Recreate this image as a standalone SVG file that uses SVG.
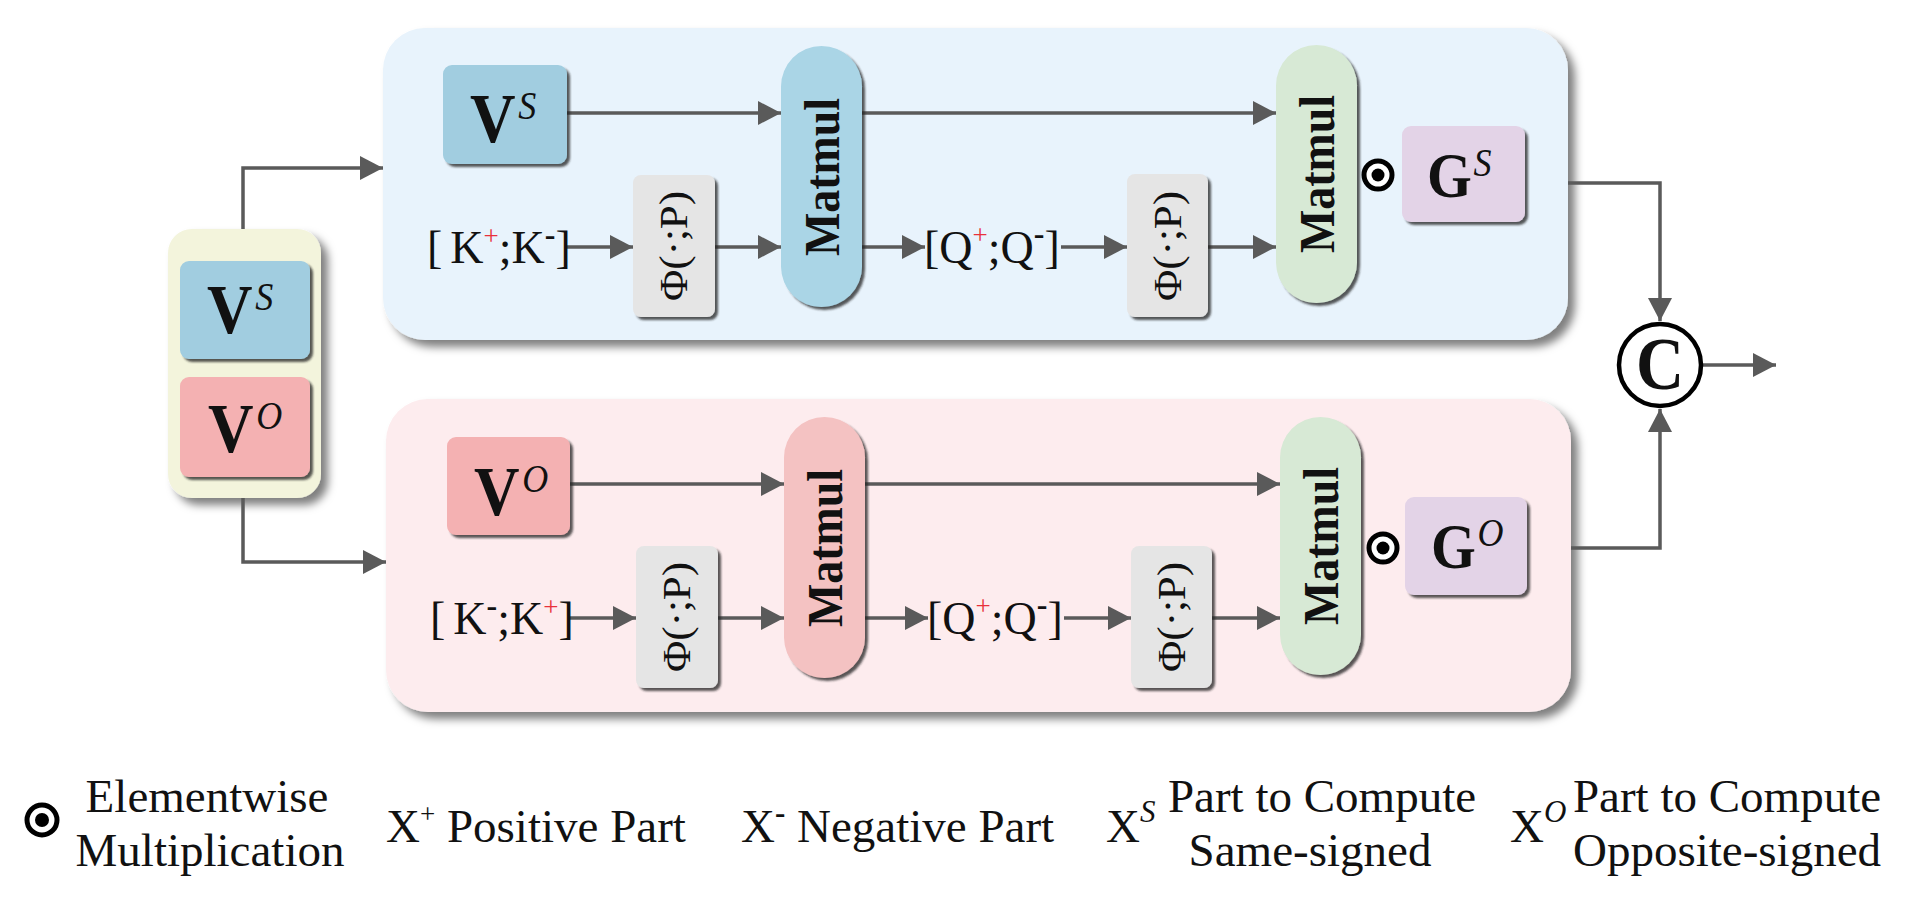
<svg xmlns="http://www.w3.org/2000/svg" width="1913" height="902" viewBox="0 0 1913 902" font-family="'Liberation Serif', 'Times New Roman', serif">
<defs>
<style>
text{font-family:"Liberation Serif","Times New Roman",serif;fill:#111}
.panelS{fill:#E8F3FC}
.panelO{fill:#FDECEE}
.vs{fill:#A1CDE0}
.vo{fill:#F4B1B2}
.mmS{fill:#AAD5E6}
.mmO{fill:#F4C2C2}
.mm2{fill:#D7E9D5}
.phi{fill:#E5E5E5}
.g{fill:#E3D3E7}
.yel{fill:#F3F4DC}
.conn{fill:none;stroke:#5A5A5A;stroke-width:3.5}
.big{font-weight:bold;font-size:70px}
.gg{font-weight:bold;font-size:64px}
.sup{font-style:italic;font-weight:normal;font-size:40px}
.mmt{font-weight:bold;font-size:50px}
.phit{font-size:40px}
.kq{font-size:46px}
.red{fill:#E8313A;font-size:27px}
.minus{font-size:32px;font-weight:bold}
.leg{font-size:47px}
</style>
<filter id="shBig" x="-10%" y="-10%" width="130%" height="130%">
<feDropShadow dx="7" dy="7" stdDeviation="4" flood-color="#000" flood-opacity="0.5"/>
</filter>
<filter id="shSm" x="-10%" y="-10%" width="130%" height="130%">
<feDropShadow dx="3" dy="3" stdDeviation="1.2" flood-color="#222" flood-opacity="0.75"/>
</filter>
<marker id="ah" markerUnits="userSpaceOnUse" markerWidth="24" markerHeight="26" refX="23" refY="13" orient="auto">
<path d="M0,1 L23,13 L0,25 z" fill="#5A5A5A"/>
</marker>
</defs>
<rect width="1913" height="902" fill="#fff"/>

<g id="panel-same">
<rect x="383" y="28" width="1185" height="312" rx="42" class="panelS" filter="url(#shBig)"/>
</g>
<g id="panel-opposite">
<rect x="386" y="399" width="1185" height="313" rx="42" class="panelO" filter="url(#shBig)"/>
</g>

<g id="input-stack">
<rect x="168" y="229" width="153" height="269" rx="24" class="yel" filter="url(#shBig)"/>
</g>
<g id="input-vs">
<rect x="180" y="261" width="130" height="98" rx="9" class="vs" filter="url(#shSm)"/>
<text transform="translate(207,333) scale(0.9,1)" class="big">V<tspan class="sup" dx="3" dy="-23">S</tspan></text>
</g>
<g id="input-vo">
<rect x="180" y="377" width="130" height="100" rx="9" class="vo" filter="url(#shSm)"/>
<text transform="translate(208,452) scale(0.9,1)" class="big">V<tspan class="sup" dx="3" dy="-23">O</tspan></text>
</g>

<g id="connectors">
<path class="conn" d="M243,229 V168 H383" marker-end="url(#ah)"/>
<path class="conn" d="M243,498 V562 H386" marker-end="url(#ah)"/>
<path class="conn" d="M567,113 H781" marker-end="url(#ah)"/>
<path class="conn" d="M566,247 H633" marker-end="url(#ah)"/>
<path class="conn" d="M715,247 H781" marker-end="url(#ah)"/>
<path class="conn" d="M862,247 H925" marker-end="url(#ah)"/>
<path class="conn" d="M1061,247 H1127" marker-end="url(#ah)"/>
<path class="conn" d="M1208,247 H1276" marker-end="url(#ah)"/>
<path class="conn" d="M862,113 H1276" marker-end="url(#ah)"/>
<path class="conn" d="M570,484 H784" marker-end="url(#ah)"/>
<path class="conn" d="M569,618 H636" marker-end="url(#ah)"/>
<path class="conn" d="M718,618 H784" marker-end="url(#ah)"/>
<path class="conn" d="M865,618 H928" marker-end="url(#ah)"/>
<path class="conn" d="M1064,618 H1131" marker-end="url(#ah)"/>
<path class="conn" d="M1212,618 H1280" marker-end="url(#ah)"/>
<path class="conn" d="M865,484 H1280" marker-end="url(#ah)"/>
<path class="conn" d="M1568,183 H1660 V321" marker-end="url(#ah)"/>
<path class="conn" d="M1571,548 H1660 V409" marker-end="url(#ah)"/>
<path class="conn" d="M1703,365 H1776" marker-end="url(#ah)"/>
</g>

<g id="vs">
<rect x="443" y="65" width="124" height="99" rx="9" class="vs" filter="url(#shSm)"/>
<text transform="translate(470,142) scale(0.9,1)" class="big">V<tspan class="sup" dx="3" dy="-23">S</tspan></text>
</g>
<g id="k-s">
<text x="427" y="263" class="kq">[<tspan dx="8">K</tspan><tspan class="red" dy="-18">+</tspan><tspan dy="18">;K</tspan><tspan class="minus" dy="-18">-</tspan><tspan dy="18">]</tspan></text>
</g>
<g id="phi1-s">
<rect x="633" y="175" width="82" height="142" rx="8" class="phi" filter="url(#shSm)"/>
<text transform="translate(674,246) rotate(-90)" x="0" y="13" text-anchor="middle" class="phit" textLength="110" lengthAdjust="spacingAndGlyphs">Φ(·;P)</text>
</g>
<g id="matmul1-s">
<rect x="781" y="46" width="81" height="261" rx="40.5" class="mmS" filter="url(#shSm)"/>
<text transform="translate(822,177) rotate(-90)" x="0" y="17" text-anchor="middle" class="mmt" textLength="158" lengthAdjust="spacingAndGlyphs">Matmul</text>
</g>
<g id="q-s">
<text x="924" y="263" class="kq">[Q<tspan class="red" dy="-19">+</tspan><tspan dy="19">;Q</tspan><tspan class="minus" dy="-19">-</tspan><tspan dy="19">]</tspan></text>
</g>
<g id="phi2-s">
<rect x="1127" y="174" width="81" height="143" rx="8" class="phi" filter="url(#shSm)"/>
<text transform="translate(1167.5,246) rotate(-90)" x="0" y="13" text-anchor="middle" class="phit" textLength="110" lengthAdjust="spacingAndGlyphs">Φ(·;P)</text>
</g>
<g id="matmul2-s">
<rect x="1276" y="45" width="81" height="258" rx="40.5" class="mm2" filter="url(#shSm)"/>
<text transform="translate(1316.5,174) rotate(-90)" x="0" y="17" text-anchor="middle" class="mmt" textLength="158" lengthAdjust="spacingAndGlyphs">Matmul</text>
</g>
<g id="odot-s">
<circle cx="1378" cy="175" r="14" fill="#fff" stroke="#000" stroke-width="5"/>
<circle cx="1378" cy="175" r="6.5" fill="#000"/>
</g>
<g id="gs">
<rect x="1402" y="126" width="123" height="96" rx="9" class="g" filter="url(#shSm)"/>
<text transform="translate(1427,197) scale(0.9,1)" class="gg">G<tspan class="sup" dx="2" dy="-21">S</tspan></text>
</g>

<g id="vo">
<rect x="447" y="437" width="123" height="98" rx="9" class="vo" filter="url(#shSm)"/>
<text transform="translate(474,515) scale(0.9,1)" class="big">V<tspan class="sup" dx="3" dy="-23">O</tspan></text>
</g>
<g id="k-o">
<text x="430" y="634" class="kq">[<tspan dx="8">K</tspan><tspan class="minus" dy="-18">-</tspan><tspan dy="18">;K</tspan><tspan class="red" dy="-18">+</tspan><tspan dy="18">]</tspan></text>
</g>
<g id="phi1-o">
<rect x="636" y="546" width="82" height="142" rx="8" class="phi" filter="url(#shSm)"/>
<text transform="translate(677,617) rotate(-90)" x="0" y="13" text-anchor="middle" class="phit" textLength="110" lengthAdjust="spacingAndGlyphs">Φ(·;P)</text>
</g>
<g id="matmul1-o">
<rect x="784" y="417" width="81" height="261" rx="40.5" class="mmO" filter="url(#shSm)"/>
<text transform="translate(825,548) rotate(-90)" x="0" y="17" text-anchor="middle" class="mmt" textLength="158" lengthAdjust="spacingAndGlyphs">Matmul</text>
</g>
<g id="q-o">
<text x="927" y="634" class="kq">[Q<tspan class="red" dy="-19">+</tspan><tspan dy="19">;Q</tspan><tspan class="minus" dy="-19">-</tspan><tspan dy="19">]</tspan></text>
</g>
<g id="phi2-o">
<rect x="1131" y="546" width="81" height="142" rx="8" class="phi" filter="url(#shSm)"/>
<text transform="translate(1171.5,617) rotate(-90)" x="0" y="13" text-anchor="middle" class="phit" textLength="110" lengthAdjust="spacingAndGlyphs">Φ(·;P)</text>
</g>
<g id="matmul2-o">
<rect x="1280" y="417" width="81" height="258" rx="40.5" class="mm2" filter="url(#shSm)"/>
<text transform="translate(1320.5,546) rotate(-90)" x="0" y="17" text-anchor="middle" class="mmt" textLength="158" lengthAdjust="spacingAndGlyphs">Matmul</text>
</g>
<g id="odot-o">
<circle cx="1383" cy="548" r="14" fill="#fff" stroke="#000" stroke-width="5"/>
<circle cx="1383" cy="548" r="6.5" fill="#000"/>
</g>
<g id="go">
<rect x="1405" y="497" width="122" height="98" rx="9" class="g" filter="url(#shSm)"/>
<text transform="translate(1431,568) scale(0.9,1)" class="gg">G<tspan class="sup" dx="2" dy="-22">O</tspan></text>
</g>

<g id="concat">
<circle cx="1660" cy="365" r="41" fill="#fff" stroke="#000" stroke-width="4.5"/>
<text transform="translate(1660,389) scale(0.9,1)" text-anchor="middle" font-size="74" font-weight="bold">C</text>
</g>

<g id="legend">
<circle cx="42" cy="820" r="15" fill="#fff" stroke="#000" stroke-width="5"/>
<circle cx="42" cy="820" r="7" fill="#000"/>
<text x="207" y="812" text-anchor="middle" class="leg">Elementwise</text>
<text x="210" y="866" text-anchor="middle" class="leg">Multiplication</text>
<text x="386" y="842" class="leg">X<tspan font-size="27" dy="-19">+</tspan><tspan dy="19"> Positive Part</tspan></text>
<text x="741" y="842" class="leg">X<tspan font-size="31" font-weight="bold" dy="-19">-</tspan><tspan dy="19"> Negative Part</tspan></text>
<text x="1106" y="842" class="leg">X<tspan font-style="italic" font-size="31" dy="-20">S</tspan></text>
<text x="1322" y="812" text-anchor="middle" class="leg">Part to Compute</text>
<text x="1310" y="866" text-anchor="middle" class="leg">Same-signed</text>
<text x="1510" y="842" class="leg">X<tspan font-style="italic" font-size="31" dy="-20">O</tspan></text>
<text x="1727" y="812" text-anchor="middle" class="leg">Part to Compute</text>
<text x="1727" y="866" text-anchor="middle" class="leg">Opposite-signed</text>
</g>
</svg>
